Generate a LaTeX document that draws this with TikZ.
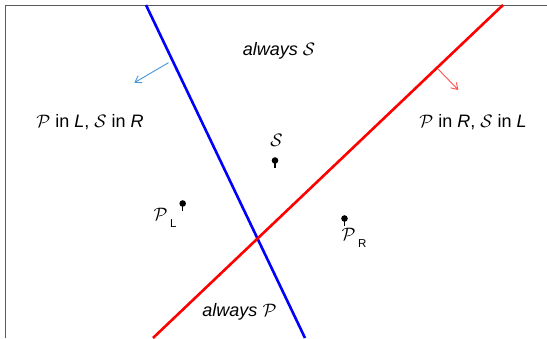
\RequirePackage{fix-cm}
\documentclass[tikz,border=0pt]{standalone}
\usepackage{fontspec}
\setmainfont{Liberation Sans}
\usetikzlibrary{arrows.meta}
\definecolor{framegray}{RGB}{90,90,90}
\definecolor{arrblue}{RGB}{70,150,220}
\definecolor{arrred}{RGB}{255,80,80}
\tikzset{
  lbl/.style={inner sep=0pt, anchor=base, font=\fontsize{18}{21}\selectfont},
  divider/.style={line width=2.6pt},
  normalarrow/.style={line width=0.9pt, -{Straight Barb[length=6pt,width=8pt]}},
  pinstem/.style={line width=1.3pt},
}
\newcommand{\subL}[1]{\hspace{2.5pt}\raisebox{-7.5pt}{\fontsize{11.5}{12}\selectfont #1}}
\begin{document}
\begin{tikzpicture}[x=1pt,y=-1pt]
\useasboundingbox (0,0) rectangle (547,338);
\fill[white] (0,0) rectangle (547,338);
% frame
\draw[framegray, line width=1pt] (5,338) -- (5,5) -- (547,5);
% dividing lines
\coordinate (bT) at (146,5);
\coordinate (bB) at (305,338);
\coordinate (rT) at (503,5);
\coordinate (rB) at (153,338);
\draw[divider, blue] (bT) -- (bB);
\draw[divider, red] (rT) -- (rB);
% normal arrows
\coordinate (ba1) at (168.5,62.7);
\coordinate (ba2) at (134.3,82.7);
\coordinate (ra1) at (438.3,69.3);
\coordinate (ra2) at (458.3,90);
\draw[normalarrow, arrblue] (ba1) -- (ba2);
\draw[normalarrow, arrred] (ra1) -- (ra2);
% points
\coordinate (S) at (275,160.5);
\coordinate (PL) at (182.7,203.5);
\coordinate (PR) at (344.5,218.5);
\foreach \p in {S,PL,PR}{
  \fill[black] (\p) circle (3.3pt);
  \draw[black, pinstem] (\p) -- ++(0,7.5);
}
% labels
\node[lbl] (tS) at (279,55) {\itshape always $\mathcal{S}$};
\node[lbl] (tP) at (239.5,316.5) {\itshape always $\mathcal{P}$};
\node[lbl] (tLR) at (90,127.3) {$\mathcal{P}$ in \textit{L}, $\mathcal{S}$ in \textit{R}};
\node[lbl] (tRL) at (473,127.3) {$\mathcal{P}$ in \textit{R}, $\mathcal{S}$ in \textit{L}};
\node[lbl] (lS) at (276.5,146) {$\mathcal{S}$};
\node[lbl, anchor=base west] (lPL) at (153.5,220) {$\mathcal{P}$\subL{L}};
\node[lbl, anchor=base west] (lPR) at (341.5,240) {$\mathcal{P}$\subL{R}};
\end{tikzpicture}
\end{document}
